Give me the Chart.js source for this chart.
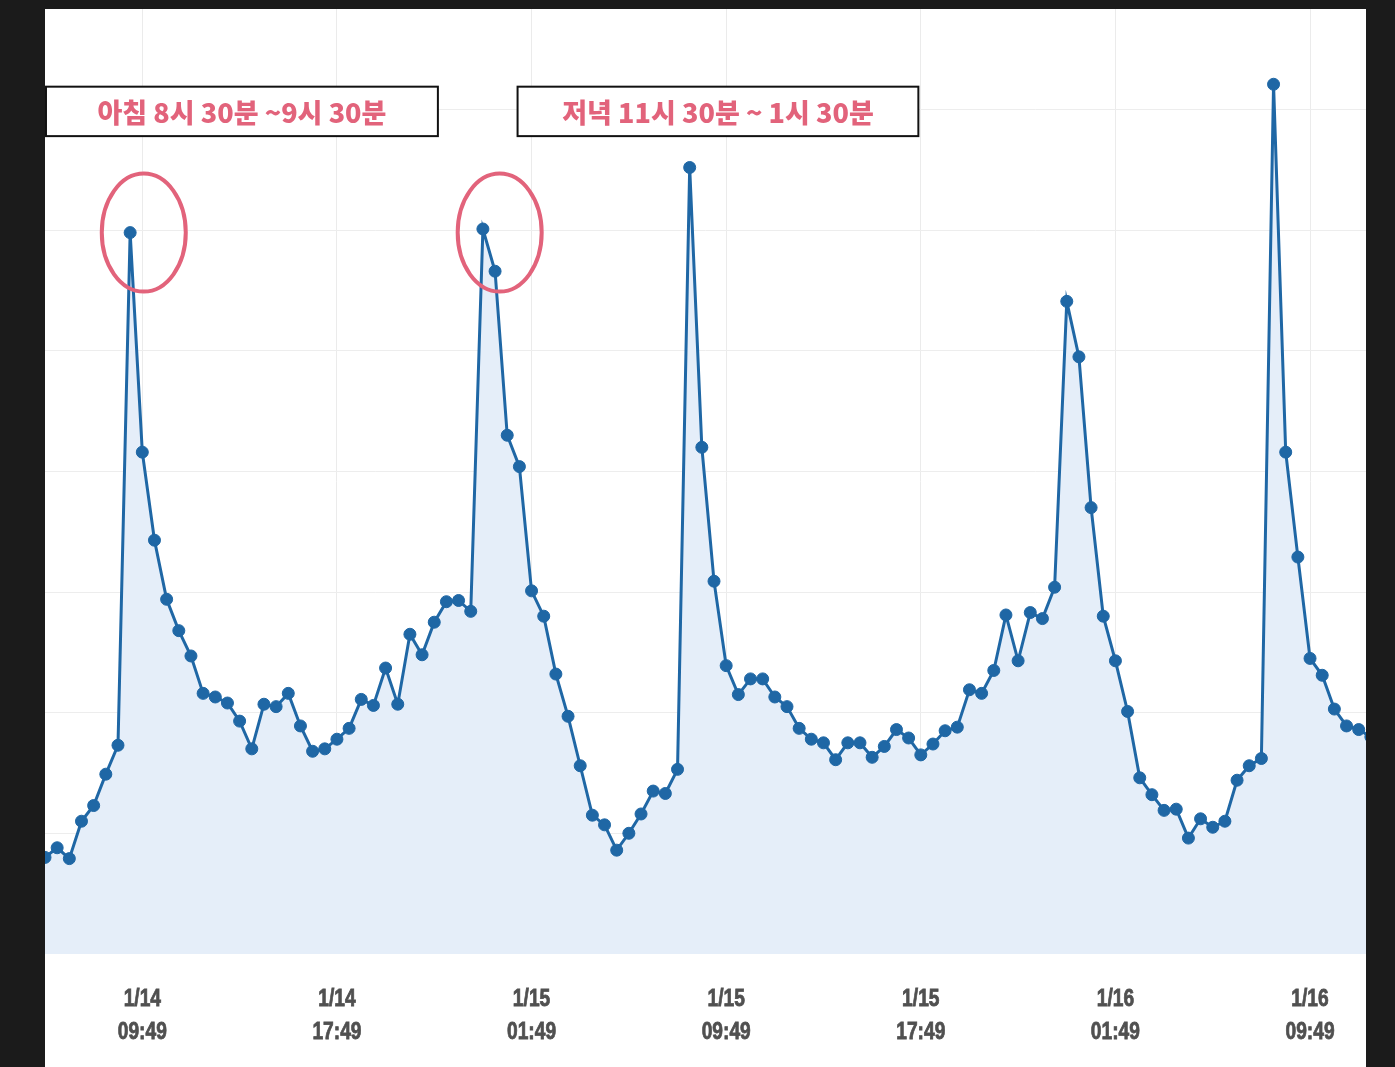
<!DOCTYPE html>
<html>
<head>
<meta charset="utf-8">
<script src="https://cdn.jsdelivr.net/npm/chart.js@4.4.1/dist/chart.umd.min.js"></script>
<style>
  html, body { margin: 0; padding: 0; background: #1b1b1b; }
  #panel { position: absolute; left: 45px; top: 9px; width: 1321px; height: 1058px; background: #fff; overflow: hidden; }
  /* 점 반지름만큼 Chart.js가 넣는 여백(7px)을 바깥으로 밀어냄 */
  #wrap { position: absolute; left: -7px; top: -7px; width: 1335px; height: 1098px; }
</style>
</head>
<body>
<div id="panel"><div id="wrap"><canvas id="traffic"></canvas></div></div>
<script>
// 30분 간격 트래픽 (격자 1칸 = 1)
const values = [
  0.80, 0.88, 0.79, 1.10, 1.23, 1.49, 1.73, 5.98, 4.16, 3.43,
  2.94, 2.68, 2.47, 2.16, 2.13, 2.08, 1.93, 1.70, 2.07, 2.05,
  2.16, 1.89, 1.68, 1.70, 1.78, 1.87, 2.11, 2.06, 2.37, 2.07,
  2.65, 2.48, 2.75, 2.92, 2.93, 2.84, 6.01, 5.66, 4.30, 4.04,
  3.01, 2.80, 2.32, 1.97, 1.56, 1.15, 1.07, 0.86, 1.00, 1.16,
  1.35, 1.33, 1.53, 6.52, 4.20, 3.09, 2.39, 2.15, 2.28, 2.28,
  2.13, 2.05, 1.87, 1.78, 1.75, 1.61, 1.75, 1.75, 1.63, 1.72,
  1.86, 1.79, 1.65, 1.74, 1.85, 1.88, 2.19, 2.16, 2.35, 2.81,
  2.43, 2.83, 2.78, 3.04, 5.41, 4.95, 3.70, 2.80, 2.43, 2.01,
  1.46, 1.32, 1.19, 1.20, 0.96, 1.12, 1.05, 1.10, 1.44, 1.56,
  1.62, 7.21, 4.16, 3.29, 2.45, 2.31, 2.03, 1.89, 1.86, 1.80
];
const tickIdx = [8, 24, 40, 56, 72, 88, 104];
const tickLabels = [
  ['1/14', '09:49'], ['1/14', '17:49'], ['1/15', '01:49'], ['1/15', '09:49'],
  ['1/15', '17:49'], ['1/16', '01:49'], ['1/16', '09:49']
];
const notes = ['아침 8시 30분 ~9시 30분', '저녁 11시 30분 ~ 1시 30분'];
// 상자: [x1, x2, yTop, yBottom] (데이터 좌표), 원: [x, y]
const noteBoxes = [[0.08, 32.3, 7.19, 6.78], [38.85, 71.8, 7.19, 6.78]];
const peakRings = [[8.12, 5.98], [37.38, 5.98]];

const PINK = '#e2637b';

const annotations = {
  id: 'annotations',
  afterDatasetsDraw(chart) {
    const { ctx, scales: { x, y } } = chart;
    ctx.save();
    // 동그라미
    ctx.strokeStyle = PINK;
    ctx.lineWidth = 4;
    peakRings.forEach(([px, py]) => {
      ctx.beginPath();
      ctx.ellipse(x.getPixelForValue(px), y.getPixelForValue(py), 42, 59, 0, 0, Math.PI * 2);
      ctx.stroke();
    });
    // 설명 상자
    noteBoxes.forEach(([x1, x2, y1, y2], i) => {
      const l = x.getPixelForValue(x1), r = x.getPixelForValue(x2);
      const t = y.getPixelForValue(y1), b = y.getPixelForValue(y2);
      ctx.fillStyle = '#fff';
      ctx.fillRect(l, t, r - l, b - t);
      ctx.strokeStyle = '#111';
      ctx.lineWidth = 2;
      ctx.strokeRect(l, t, r - l, b - t);
      ctx.fillStyle = PINK;
      ctx.font = '900 27px "Noto Sans CJK KR", sans-serif';
      ctx.textAlign = 'center';
      ctx.textBaseline = 'middle';
      ctx.fillText(notes[i], (l + r) / 2, (t + b) / 2 + 1);
    });
    ctx.restore();
  }
};

// 좁은 글꼴이 없어서 눈금 글자를 가로로 눌러서 그림
const narrowTicks = {
  id: 'narrowTicks',
  afterDraw(chart) {
    const { ctx, scales: { x }, chartArea } = chart;
    ctx.save();
    ctx.fillStyle = '#505050';
    ctx.strokeStyle = '#505050';
    ctx.lineWidth = 0.8;
    ctx.font = 'bold 24px "Liberation Sans", Arial, sans-serif';
    ctx.textAlign = 'center';
    ctx.textBaseline = 'middle';
    tickIdx.forEach((v, i) => {
      const cx = x.getPixelForValue(v);
      tickLabels[i].forEach((line, j) => {
        ctx.save();
        ctx.translate(cx, chartArea.bottom + 45 + j * 33);
        ctx.scale(0.8, 1);
        ctx.fillText(line, 0, 0);
        ctx.strokeText(line, 0, 0);
        ctx.restore();
      });
    });
    ctx.restore();
  }
};

new Chart(document.getElementById('traffic'), {
  type: 'line',
  data: {
    datasets: [{
      data: values.map((v, i) => ({ x: i, y: v })),
      borderColor: '#1f67a5',
      backgroundColor: '#e5eef9',
      borderWidth: 3,
      fill: 'origin',
      tension: 0,
      pointRadius: 6,
      pointBackgroundColor: '#1f67a5',
      pointBorderColor: '#1f67a5',
      pointBorderWidth: 1
    }]
  },
  options: {
    responsive: true,
    maintainAspectRatio: false,
    animation: false,
    layout: { padding: { left: 0, right: 0, top: 0, bottom: 21 } },
    plugins: { legend: { display: false }, tooltip: { enabled: false } },
    scales: {
      x: {
        type: 'linear',
        min: 0,
        max: 108.6,
        afterBuildTicks: (scale) => { scale.ticks = tickIdx.map(v => ({ value: v })); },
        grid: { color: '#ebebeb', drawTicks: false },
        border: { display: false },
        ticks: {
          autoSkip: false,
          maxRotation: 0,
          padding: 30,
          color: 'rgba(0,0,0,0)',
          font: { family: '"Liberation Sans", sans-serif', size: 21, weight: 'bold', lineHeight: 1.55 },
          callback: (v) => tickLabels[tickIdx.indexOf(v)]
        }
      },
      y: {
        min: 0,
        max: 7.834,
        afterBuildTicks: (scale) => { scale.ticks = [0, 1, 2, 3, 4, 5, 6, 7].map(v => ({ value: v })); },
        grid: { color: '#ededed', drawTicks: false },
        border: { display: false },
        ticks: { display: false, padding: 0 }
      }
    }
  },
  plugins: [annotations, narrowTicks]
});
</script>
</body>
</html>
